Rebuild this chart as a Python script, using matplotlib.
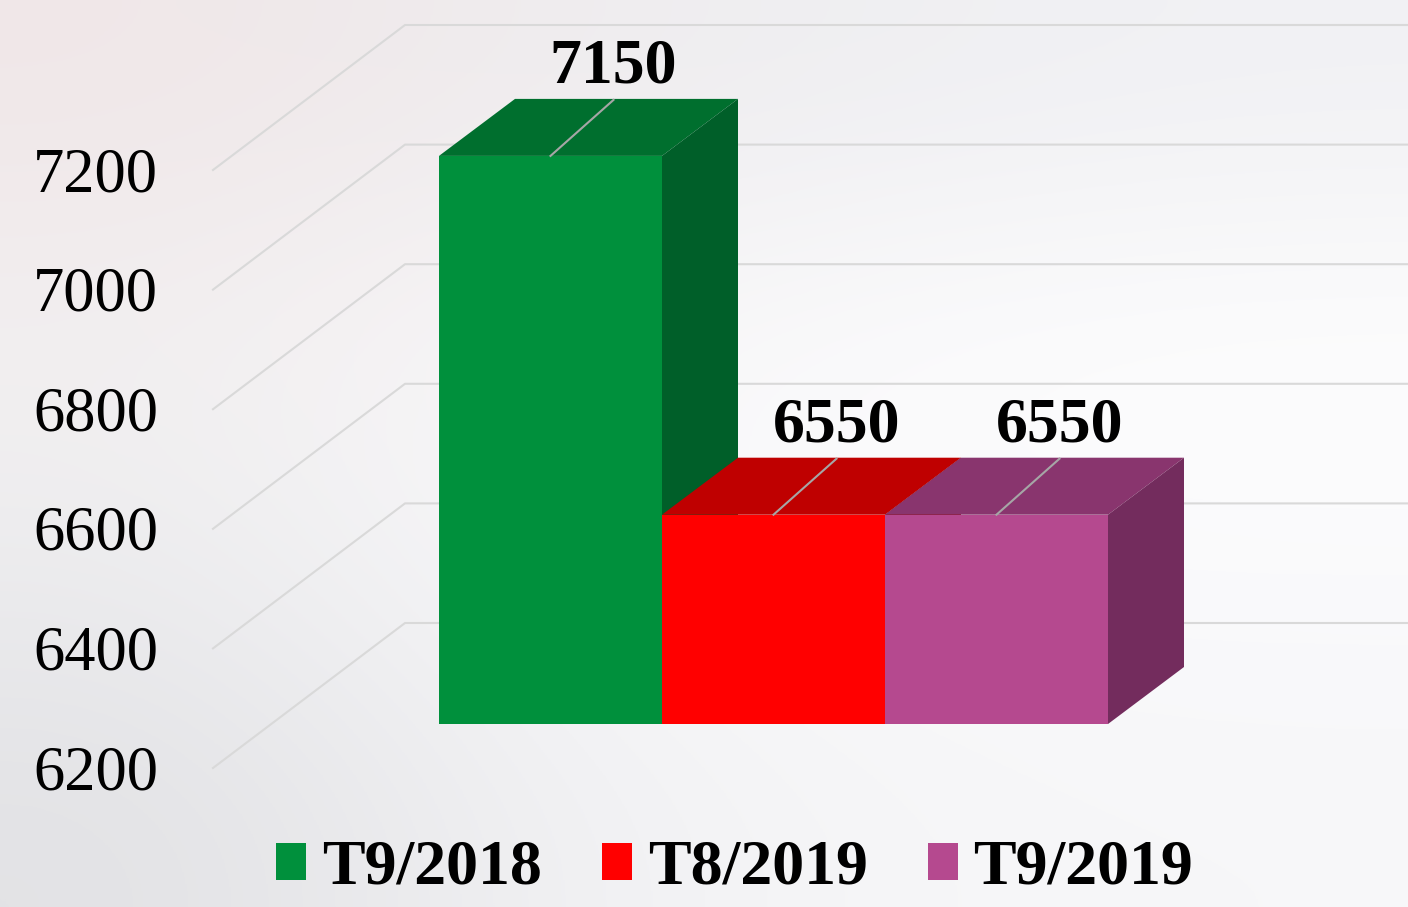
import numpy as np
import matplotlib
matplotlib.use("Agg")
import matplotlib.pyplot as plt
from matplotlib.patches import Polygon, Patch

# data
periods = ["T9/2018", "T8/2019", "T9/2019"]
values = [7150, 6550, 6550]
ticks = [6200, 6400, 6600, 6800, 7000, 7200]
front_colors = ["#00903C", "#FF0000", "#B5498F"]
top_colors = ["#006F2E", "#BF0000", "#89356E"]
side_colors = ["#005F29", "#990000", "#732C5D"]

# layout (pixels)
W, H = 1408, 907
PX_CAT = 223.0      # pixels per category (bar width)
PX_VAL = 0.598      # pixels per value unit
X0 = 550.5          # pixel x of first bar center
Y0 = 724.0          # pixel y of base value on bar front plane
BASE = 6200
DEPTH = (76, 57)    # bar depth offset in pixels (right, up)
WALL_FRONT_X, WALL_FRONT_DY = 213, -44
WALL_BACK_X, WALL_BACK_DY = 405, 101
serif = "Liberation Serif"


def px_x(p):
    return (p - X0) / PX_CAT


def dval(p):
    return p / PX_VAL


fig = plt.figure(figsize=(W / 100, H / 100), dpi=100)

# soft background gradient
bg = fig.add_axes([0, 0, 1, 1], zorder=0)
grid = np.array([
    [[240, 231, 232], [239, 236, 238], [239, 239, 242], [241, 241, 244]],
    [[243, 240, 241], [248, 247, 248], [252, 252, 253], [254, 254, 254]],
    [[236, 236, 238], [247, 247, 249], [250, 250, 251], [250, 250, 252]],
    [[226, 226, 229], [240, 240, 242], [246, 246, 248], [247, 247, 249]],
]) / 255.0
bg.imshow(grid, extent=[0, 1, 0, 1], aspect="auto", interpolation="bicubic")
bg.axis("off")

ax = fig.add_axes([0, 0, 1, 1], zorder=1)
ax.set_facecolor("none")
ax.set_xlim(px_x(0), px_x(W))
ax.set_ylim(BASE - dval(H - Y0), BASE + dval(Y0))
ax.axis("off")

# gridlines: left wall slant + back wall
for v in ticks:
    xs = [px_x(WALL_FRONT_X), px_x(WALL_BACK_X), px_x(W)]
    ys = [v + dval(WALL_FRONT_DY), v + dval(WALL_BACK_DY), v + dval(WALL_BACK_DY)]
    ax.plot(xs, ys, color="#D9D9D9", lw=1.5, zorder=1)
    ax.text(px_x(158), v + dval(WALL_FRONT_DY) - dval(21), str(v),
            ha="right", va="baseline", family=serif, fontsize=45, color="black")

# bars
ddx, ddy = DEPTH[0] / PX_CAT, dval(DEPTH[1])
xpos = np.arange(len(values))
bars = ax.bar(xpos, [v - BASE for v in values], bottom=BASE, width=1.0,
              color=front_colors, linewidth=0)
for i, (v, patch) in enumerate(zip(values, bars)):
    z = 3 + 3 * i
    top = Polygon([(i - 0.5, v), (i + 0.5, v), (i + 0.5 + ddx, v + ddy),
                   (i - 0.5 + ddx, v + ddy)], closed=True,
                  facecolor=top_colors[i], lw=0, zorder=z)
    side = Polygon([(i + 0.5, BASE), (i + 0.5, v), (i + 0.5 + ddx, v + ddy),
                    (i + 0.5 + ddx, BASE + ddy)], closed=True,
                   facecolor=side_colors[i], lw=0, zorder=z)
    ax.add_patch(top)
    ax.add_patch(side)
    patch.set_zorder(z + 1)

    # leader line and value label
    lx, ly = i + 63 / PX_CAT, v + dval(56)
    ax.plot([i, lx], [v, ly], color="#A6A6A6", lw=1.5, zorder=z + 2)
    ax.text(lx, ly + dval(17), str(v), ha="center", va="baseline",
            family=serif, fontweight="bold", fontsize=46, zorder=20)

handles = [Patch(facecolor=c, linewidth=0) for c in front_colors]
fig.legend(handles=handles, labels=periods, loc="center",
           bbox_to_anchor=(734.5 / W, 1 - 869 / H), ncol=3, frameon=False,
           prop=dict(family=serif, weight="bold", size=46),
           handlelength=0.47, handleheight=0.52, handletextpad=0.25,
           columnspacing=0.94)

fig.savefig("out.png", dpi=100)
